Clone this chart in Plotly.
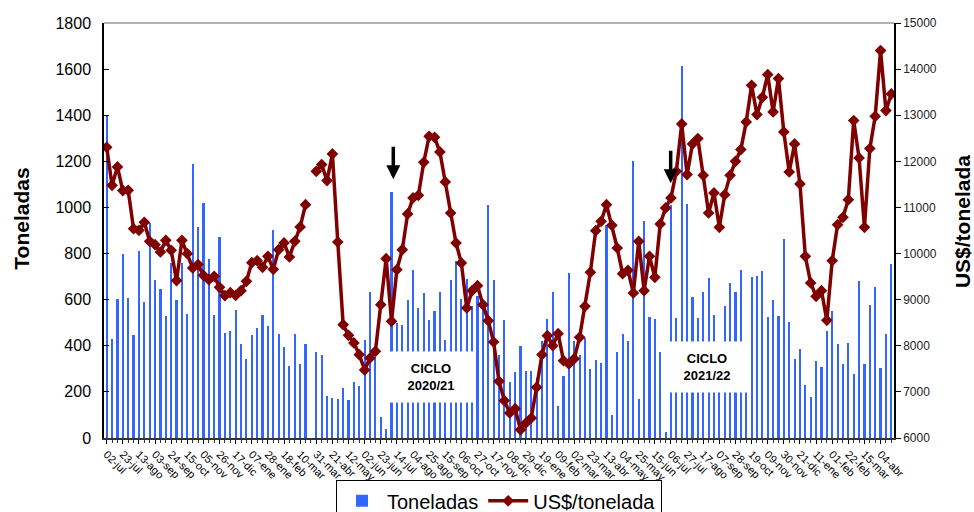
import plotly.graph_objects as go

# Weekly tick labels (every third week)
tick_labels = ["02-jul","23-jul","13-ago","03-sep","24-sep","15-oct","05-nov","26-nov","17-dic",
               "07-ene","28-ene","18-feb","10-mar","31-mar","21-abr","12-may","02-jun","23-jun",
               "14-jul","04-ago","25-ago","15-sep","06-oct","27-oct","17-nov","08-dic","29-dic",
               "19-ene","09-feb","02-mar","23-mar","13-abr","04-may","25-may","15-jun","06-jul",
               "27-jul","17-ago","07-sep","28-sep","19-oct","09-nov","30-nov","21-dic","11-ene",
               "01-feb","22-feb","15-mar","04-abr"]

# Toneladas (weekly volume)
toneladas = [1403, 431, 603, 798, 609, 445, 811, 589, 933, 687,
             648, 529, 759, 599, 759, 538, 1189, 914, 1018, 778,
             532, 872, 454, 463, 554, 409, 343, 445, 476, 532,
             486, 904, 451, 393, 311, 451, 321, 408, None, 373,
             362, 184, 174, 168, 215, 166, 241, 226, 425, 634,
             353, 92, 38, 1065, 500, 488, 600, 727, 565, 628,
             512, 553, 634, 425, 684, 766, 603, 691, 571, 615,
             600, 1012, 684, 361, 512, 243, 285, 397, 289, 289,
             260, 422, 518, 633, 137, 270, 715, 420, 361, 434,
             299, 338, 324, 925, 101, 375, 451, 422, 1203, 168,
             940, 527, 515, 372, 26, 1010, 522, 1612, 1015, 610,
             522, 635, 692, 533, 300, 574, 674, 632, 730, 270,
             700, 702, 725, 524, 599, 531, 864, 504, 344, 385,
             229, 179, 333, 309, 462, 552, 409, 320, 414, 278,
             681, 322, 578, 654, 304, 451, 756]

# US$/tonelada (weekly price)
precio = [12305, 11480, 11878, 11365, 11372, 10540, 10504, 10678, 10266, 10193,
          10034, 10287, 10070, 9413, 10287, 9998, 9687, 9760, 9528, 9434,
          9507, 9268, 9087, 9152, 9094, 9196, 9398, 9803, 9846, 9702,
          9940, 9658, 10085, 10230, 9926, 10266, 10577, 11061, None, 11784,
          11929, 11582, 12160, 10251, 8458, 8227, 8061, 7808, 7475, 7735,
          7880, 8892, 9890, 8531, 9651, 10085, 10859, 11206, 11263, 11979,
          12543, 12521, 12203, 11553, 10880, 10230, 9796, 8820, 9196, 9304,
          8892, 8545, 8082, 7229, 6810, 6542, 6636, 6181, 6325, 6434,
          7099, 7808, 8220, 8003, 8263, 7677, 7605, 7721, 8183, 8856,
          9593, 10497, 10700, 11061, 10613, 10121, 9564, 9637, 9145, 10266,
          9196, 9940, 9485, 10642, 10989, 11206, 11784, 12811, 11712, 12377,
          12493, 11697, 10880, 11314, 10569, 11278, 11697, 12001, 12254, 12854,
          13649, 13013, 13389, 13881, 13071, 13794, 12637, 11770, 12377, 11509,
          9940, 9362, 9073, 9196, 8552, 9846, 10627, 10786, 11169, 12883,
          12073, 10569, 12276, 12977, 14401, 13100, 13461]

weeks = list(range(len(toneladas)))
tick_vals = [3 * k for k in range(len(tick_labels))]

FONT = "Liberation Sans, Arial, sans-serif"

fig = go.Figure()
fig.add_trace(go.Bar(x=weeks, y=toneladas, name="Toneladas", marker_color="#3366FF",
                     marker_line_width=0, width=0.4, yaxis="y"))
fig.add_trace(go.Scatter(x=weeks, y=precio, name="US$/tonelada", mode="lines+markers",
                         line=dict(color="#800000", width=3.5),
                         marker=dict(symbol="diamond", size=9, color="#800000"),
                         connectgaps=False, yaxis="y2"))

fig.update_layout(
    template="none",
    width=974, height=512,
    margin=dict(l=104, r=80, t=23, b=74, autoexpand=False),
    paper_bgcolor="white", plot_bgcolor="white",
    font=dict(family=FONT, color="black"),
    bargap=0,
    showlegend=True,
    legend=dict(orientation="h", x=0.5, xanchor="center", y=-0.102, yanchor="top",
                bordercolor="black", borderwidth=1, font=dict(size=20, family=FONT),
                bgcolor="white", itemwidth=40),
    xaxis=dict(range=[-0.5, len(weeks) - 0.5], tickmode="array", tickvals=tick_vals,
               ticktext=tick_labels, tickangle=45, tickfont=dict(size=11, family=FONT),
               ticks="outside", ticklen=4, tickcolor="black", showgrid=False, zeroline=False,
               showline=True, linecolor="#333333", linewidth=1.5,
               minor=dict(tickmode="linear", tick0=0, dtick=1, ticks="outside", ticklen=3,
                          tickcolor="#333333", showgrid=False)),
    yaxis=dict(range=[0, 1800], dtick=200, tickfont=dict(size=16, family=FONT),
               ticks="inside", ticklen=5, tickcolor="black", showgrid=False, zeroline=False,
               showline=True, linecolor="black", linewidth=1.5, ticklabelstandoff=8),
    yaxis2=dict(range=[6000, 15000], dtick=1000, tickformat="d", overlaying="y", side="right",
                tickfont=dict(size=12, family=FONT, color="#222222"),
                ticks="outside", ticklen=5, tickcolor="black", showgrid=False, zeroline=False,
                showline=True, linecolor="black", linewidth=1.5),
)

# top border of plot area
fig.add_shape(type="line", xref="paper", yref="paper", x0=0, x1=1, y0=1, y1=1,
              line=dict(color="#999999", width=1.5))

# Axis titles
fig.add_annotation(text="<b>Toneladas</b>", xref="paper", yref="paper", x=-0.104, y=0.528,
                   xanchor="center", yanchor="middle",
                   textangle=-90, showarrow=False, font=dict(size=21, family=FONT))
fig.add_annotation(text="<b>US$/tonelada</b>", xref="paper", yref="paper", x=1.087, y=0.522,
                   xanchor="center", yanchor="middle",
                   textangle=-90, showarrow=False, font=dict(size=21, family=FONT))

# Cycle boxes
for txt, px, py in [("CICLO<br>2020/21", 0.414, 0.147), ("CICLO<br>2021/22", 0.7627, 0.170)]:
    fig.add_annotation(text="<b>" + txt.replace("<br>", "</b><br><b>") + "</b>",
                       xref="paper", yref="paper", x=px, y=py, showarrow=False,
                       xanchor="center", yanchor="middle",
                       bgcolor="white", width=82, height=48,
                       font=dict(size=13, family=FONT, color="black"))

# Arrows
for px, py in [(0.3662, 0.6234), (0.7173, 0.6137)]:
    fig.add_annotation(text="", xref="paper", yref="paper", x=px, y=py, ax=0, ay=-34,
                       showarrow=True, arrowhead=2, arrowsize=0.8, arrowwidth=3.5,
                       arrowcolor="black")

fig.write_html("out.html", config={"displayModeBar": False},
               post_script="document.body.style.margin='0';")
